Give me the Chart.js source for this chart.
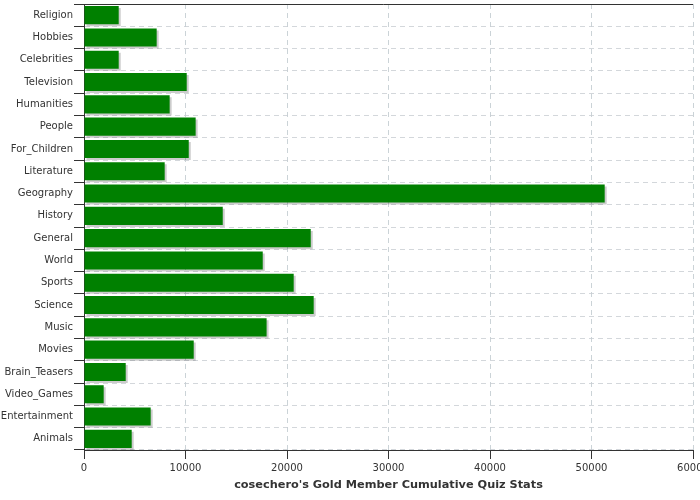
<!DOCTYPE html>
<html>
<head>
<meta charset="utf-8">
<script src="https://cdn.jsdelivr.net/npm/chart.js@4"></script>
<style>
html,body{margin:0;padding:0;background:#fff;}
#wrap{width:700px;height:500px;}
</style>
</head>
<body>
<div id="wrap"><canvas id="c" width="700" height="500"></canvas></div>
<script>
const categories = ["Religion","Hobbies","Celebrities","Television","Humanities","People","For_Children","Literature","Geography","History","General","World","Sports","Science","Music","Movies","Brain_Teasers","Video_Games","Entertainment","Animals"];
const quizValues = [3420,7160,3420,10120,8440,11000,10320,7950,51300,13670,22340,17610,20660,22630,17990,10810,4110,1940,6570,4700];
const xTicks = [0,10000,20000,30000,40000,50000,60000];
const chartTitle = "cosechero's Gold Member Cumulative Quiz Stats";

const shadowPlugin = {
  id: 'barShadow',
  beforeDatasetsDraw(chart) {
    const ctx = chart.ctx;
    ctx.save();
    ctx.shadowColor = 'rgba(0,0,0,0.2)';
    ctx.shadowOffsetX = 2;
    ctx.shadowOffsetY = 2;
    ctx.shadowBlur = 0;
  },
  afterDatasetsDraw(chart) {
    chart.ctx.restore();
  }
};
const topLinePlugin = {
  id: 'topLine',
  afterDraw(chart) {
    const a = chart.chartArea, ctx = chart.ctx;
    ctx.save();
    ctx.strokeStyle = '#333';
    ctx.lineWidth = 1;
    ctx.setLineDash([]);
    ctx.beginPath();
    ctx.moveTo(a.left - 10, Math.round(a.top) + 0.5);
    ctx.lineTo(a.right, Math.round(a.top) + 0.5);
    ctx.stroke();
    ctx.restore();
  }
};

new Chart(document.getElementById('c'), {
  type: 'bar',
  data: {
    labels: categories,
    datasets: [{
      data: quizValues,
      backgroundColor: '#008000',
      borderWidth: 0,
      barPercentage: 0.81,
      categoryPercentage: 1.0
    }]
  },
  plugins: [shadowPlugin, topLinePlugin],
  options: {
    indexAxis: 'y',
    responsive: false,
    animation: false,
    layout: { padding: { top: 4, right: 7, bottom: 0, left: 0 } },
    plugins: { legend: { display: false }, tooltip: { enabled: false }, title: { display: false } },
    scales: {
      x: {
        min: 0, max: 60000,
        afterBuildTicks(scale) { scale.ticks = xTicks.map(v => ({ value: v })); },
        afterFit(scale) { scale.height = 50; scale.paddingLeft = 0; scale.paddingRight = 0; },
        grid: {
          color: 'rgba(190,200,205,0.8)',
          tickColor: '#333',
          tickLength: 9,
          tickBorderDash: [],
          drawTicks: true
        },
        border: { display: true, color: '#333', width: 1, dash: [5, 4] },
        ticks: {
          color: '#333',
          font: { family: 'DejaVu Sans', size: 10 },
          padding: 3,
          maxRotation: 0,
          callback: v => String(v)
        },
        title: {
          display: true,
          text: chartTitle,
          color: '#333',
          font: { family: 'DejaVu Sans', size: 11.3, weight: 'bold' },
          padding: { top: 4, bottom: 8 }
        }
      },
      y: {
        afterFit(scale) { scale.width = 84; scale.paddingTop = 0; scale.paddingBottom = 0; },
        grid: {
          color: 'rgba(200,205,210,0.8)',
          tickColor: '#333',
          tickLength: 10,
          tickBorderDash: [],
          offset: true
        },
        border: { display: true, color: '#333', width: 1, dash: [5, 4] },
        ticks: {
          color: '#333',
          font: { family: 'DejaVu Sans', size: 10 },
          padding: 1,
          autoSkip: false
        }
      }
    }
  }
});
</script>
</body>
</html>
